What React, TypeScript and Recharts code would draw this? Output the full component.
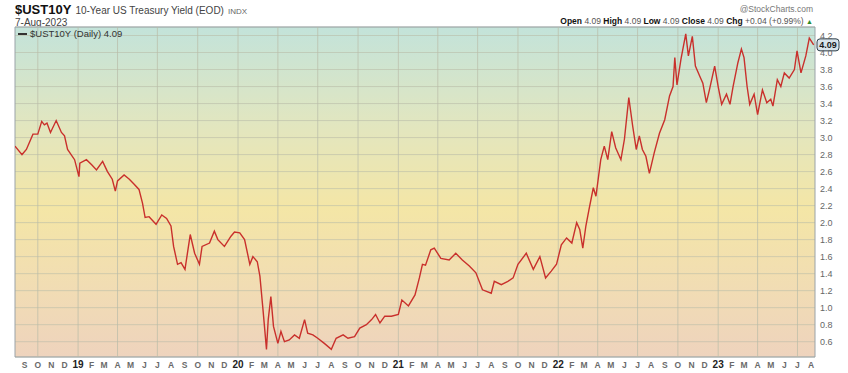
import {
  LineChart,
  Line,
  XAxis,
  YAxis,
  CartesianGrid,
  ReferenceLine,
  ReferenceArea,
} from 'recharts';

const dates = [
  '2018-08-10', '2018-08-26', '2018-09-05', '2018-09-20', '2018-10-01', '2018-10-10', '2018-10-16',
  '2018-10-22', '2018-10-30', '2018-11-12', '2018-11-24', '2018-12-01', '2018-12-08', '2018-12-24',
  '2019-01-03', '2019-01-05', '2019-01-20', '2019-02-01', '2019-02-12', '2019-02-26', '2019-03-09',
  '2019-03-20', '2019-03-27', '2019-04-01', '2019-04-16', '2019-04-28', '2019-05-09', '2019-05-20',
  '2019-05-28', '2019-06-03', '2019-06-12', '2019-06-28', '2019-07-11', '2019-07-22', '2019-08-01',
  '2019-08-07', '2019-08-16', '2019-08-24', '2019-09-02', '2019-09-14', '2019-09-24', '2019-10-05',
  '2019-10-11', '2019-10-28', '2019-11-08', '2019-11-16', '2019-12-01', '2019-12-16', '2019-12-24',
  '2020-01-05', '2020-01-16', '2020-01-28', '2020-02-04', '2020-02-14', '2020-02-20', '2020-02-27',
  '2020-03-06', '2020-03-10', '2020-03-16', '2020-03-22', '2020-04-01', '2020-04-08', '2020-04-16',
  '2020-04-27', '2020-05-09', '2020-05-20', '2020-06-01', '2020-06-08', '2020-06-20', '2020-07-01',
  '2020-07-16', '2020-08-01', '2020-08-12', '2020-08-28', '2020-09-08', '2020-09-23', '2020-10-05',
  '2020-10-20', '2020-11-01', '2020-11-10', '2020-11-20', '2020-12-01', '2020-12-16', '2021-01-01',
  '2021-01-09', '2021-01-24', '2021-02-08', '2021-02-18', '2021-02-25', '2021-03-04', '2021-03-16',
  '2021-03-24', '2021-04-08', '2021-04-27', '2021-05-12', '2021-05-27', '2021-06-12', '2021-06-27',
  '2021-07-12', '2021-08-01', '2021-08-08', '2021-08-24', '2021-09-08', '2021-09-20', '2021-10-01',
  '2021-10-20', '2021-11-05', '2021-11-20', '2021-12-03', '2021-12-16', '2021-12-28', '2022-01-08',
  '2022-01-20', '2022-02-01', '2022-02-12', '2022-02-19', '2022-02-26', '2022-03-05', '2022-03-12',
  '2022-03-22', '2022-03-28', '2022-04-08', '2022-04-16', '2022-04-24', '2022-05-03', '2022-05-12',
  '2022-05-24', '2022-06-01', '2022-06-11', '2022-06-20', '2022-06-28', '2022-07-05', '2022-07-12',
  '2022-07-20', '2022-07-28', '2022-08-08', '2022-08-20', '2022-09-01', '2022-09-12', '2022-09-20',
  '2022-09-24', '2022-09-29', '2022-10-08', '2022-10-19', '2022-10-25', '2022-11-03', '2022-11-10',
  '2022-11-20', '2022-11-27', '2022-12-05', '2022-12-12', '2022-12-24', '2023-01-01', '2023-01-09',
  '2023-01-20', '2023-01-28', '2023-02-04', '2023-02-15', '2023-02-23', '2023-03-01', '2023-03-08',
  '2023-03-14', '2023-03-24', '2023-04-01', '2023-04-12', '2023-04-22', '2023-05-01', '2023-05-06',
  '2023-05-16', '2023-05-24', '2023-06-01', '2023-06-12', '2023-06-24', '2023-06-30', '2023-07-09',
  '2023-07-20', '2023-07-28', '2023-08-07',
];

const yields = [
  2.90, 2.80, 2.86, 3.04, 3.04, 3.19, 3.15,
  3.17, 3.06, 3.20, 3.06, 3.02, 2.86, 2.74,
  2.54, 2.70, 2.74, 2.68, 2.62, 2.72, 2.60,
  2.51, 2.37, 2.49, 2.56, 2.51, 2.45, 2.39,
  2.23, 2.06, 2.07, 1.98, 2.09, 2.05, 1.96,
  1.72, 1.51, 1.53, 1.45, 1.86, 1.64, 1.51,
  1.72, 1.76, 1.90, 1.80, 1.72, 1.84, 1.89,
  1.88, 1.80, 1.51, 1.60, 1.54, 1.37, 0.98,
  0.51, 0.86, 1.13, 0.78, 0.58, 0.72, 0.60,
  0.62, 0.68, 0.64, 0.86, 0.70, 0.68, 0.64,
  0.58, 0.51, 0.64, 0.68, 0.64, 0.66, 0.76,
  0.80, 0.86, 0.92, 0.82, 0.90, 0.90, 0.92,
  1.09, 1.02, 1.15, 1.35, 1.51, 1.50, 1.68,
  1.70, 1.58, 1.56, 1.64, 1.56, 1.49, 1.41,
  1.21, 1.17, 1.31, 1.27, 1.31, 1.35, 1.51,
  1.64, 1.45, 1.60, 1.35, 1.43, 1.51, 1.74,
  1.82, 1.76, 2.00, 1.92, 1.70, 1.96, 2.15,
  2.41, 2.31, 2.74, 2.90, 2.74, 3.07, 2.88,
  2.74, 2.98, 3.47, 3.13, 2.86, 3.02, 2.86,
  2.78, 2.58, 2.82, 3.05, 3.21, 3.49, 3.60,
  3.94, 3.62, 3.92, 4.22, 3.96, 4.19, 3.84,
  3.72, 3.64, 3.41, 3.56, 3.84, 3.60, 3.39,
  3.51, 3.39, 3.60, 3.88, 4.04, 3.94, 3.60,
  3.39, 3.51, 3.27, 3.56, 3.41, 3.45, 3.37,
  3.68, 3.60, 3.76, 3.70, 3.80, 4.02, 3.76,
  3.96, 4.17, 4.09,
];

const yTicks = [0.6, 0.8, 1.0, 1.2, 1.4, 1.6, 1.8, 2.0, 2.2, 2.4, 2.6, 2.8, 3.0, 3.2, 3.4, 3.6, 3.8, 4.0, 4.2];
const monthLetters = ['J', 'F', 'M', 'A', 'M', 'J', 'J', 'A', 'S', 'O', 'N', 'D'];
const lastClose = 4.09;

const toTime = (s: string) => {
  const [y, m, d] = s.split('-').map(Number);
  return Date.UTC(y, m - 1, d);
};

const data = dates.map((d, i) => ({ t: toTime(d), value: yields[i] }));

const xStart = toTime('2018-08-10');
const xEnd = toTime('2023-08-10');

// month starts Sep 2018 .. Aug 2023 for the axis labels
const monthTicks: number[] = [];
for (let y = 2018, m = 8; y < 2023 || (y === 2023 && m <= 7); m++) {
  if (m > 11) { m = 0; y++; }
  monthTicks.push(Date.UTC(y, m, 1));
}
const quarterLines = monthTicks.filter((t) => new Date(t).getUTCMonth() % 3 === 0);

const FONT = '"Liberation Sans", Arial, sans-serif';

const MonthTick = ({ x, y, payload }: any) => {
  const d = new Date(payload.value);
  const m = d.getUTCMonth();
  const isYear = m === 0;
  const label = isYear ? String(d.getUTCFullYear()).slice(2) : monthLetters[m];
  return (
    <text
      x={x}
      y={y + 9}
      textAnchor="middle"
      fontSize={isYear ? 10 : 8.5}
      fontWeight="bold"
      fill={isYear ? '#222' : '#6a6a6a'}
      fontFamily={FONT}
    >
      {label}
    </text>
  );
};

const PriceTick = ({ x, y, payload }: any) => (
  <text x={x + 3} y={y + 3.5} fontSize={9} fill="#666" fontFamily={FONT}>
    {payload.value.toFixed(1)}
  </text>
);

const LastBox = ({ viewBox }: any) => {
  const x = viewBox.x + viewBox.width + 2;
  const y = viewBox.y;
  return (
    <g>
      <rect x={x} y={y - 6} width={22} height={12} rx={3} fill="#d9e4ec" stroke="#2c3e4a" strokeWidth={1} />
      <text x={x + 11} y={y + 3.5} textAnchor="middle" fontSize={9} fontWeight="bold" fill="#1a1a1a" fontFamily={FONT}>
        {lastClose.toFixed(2)}
      </text>
    </g>
  );
};

export default function App() {
  return (
    <div style={{ position: 'absolute', left: 0, top: 0, width: 848, height: 373, background: '#fff', fontFamily: FONT }}>
      <div style={{ position: 'absolute', left: 15, top: 2, whiteSpace: 'nowrap', lineHeight: '14px', height: 14 }}>
        <span style={{ fontSize: 13, fontWeight: 'bold', color: '#111' }}>$UST10Y</span>
        <span style={{ fontSize: 10, color: '#444', marginLeft: 4 }}>10-Year US Treasury Yield (EOD)</span>
        <span style={{ fontSize: 8, color: '#666', marginLeft: 4 }}>INDX</span>
      </div>
      <div style={{ position: 'absolute', left: 15, top: 18, fontSize: 10, lineHeight: '10px', color: '#444' }}>7-Aug-2023</div>
      <div style={{ position: 'absolute', right: 35, top: 4, fontSize: 8.5, lineHeight: '10px', color: '#777' }}>@StockCharts.com</div>
      <div style={{ position: 'absolute', right: 35, top: 16, fontSize: 8.5, lineHeight: '10px', color: '#555', whiteSpace: 'nowrap' }}>
        <b style={{ color: '#111' }}>Open</b> 4.09 <b style={{ color: '#111' }}>High</b> 4.09{' '}
        <b style={{ color: '#111' }}>Low</b> 4.09 <b style={{ color: '#111' }}>Close</b> 4.09{' '}
        <b style={{ color: '#111' }}>Chg</b> +0.04 (+0.99%) <span style={{ color: '#2a8a2a', fontSize: 7 }}>▲</span>
      </div>
      <LineChart width={848} height={373} data={data} margin={{ top: 27, right: 0, bottom: 0, left: 15 }}>
        <defs>
          <linearGradient id="bgGrad" x1="0" y1="0" x2="0" y2="1">
            <stop offset="0%" stopColor="#c3e3da" />
            <stop offset="30%" stopColor="#e2e6bf" />
            <stop offset="55%" stopColor="#f4e6a6" />
            <stop offset="80%" stopColor="#f1dcb4" />
            <stop offset="100%" stopColor="#eed3bd" />
          </linearGradient>
        </defs>
        <CartesianGrid vertical={false} fill="url(#bgGrad)" fillOpacity={1} stroke="#b9bca8" strokeOpacity={0.6} />
        {quarterLines.map((t) => (
          <ReferenceLine key={t} x={t} stroke="#b9bca8" strokeOpacity={0.7} />
        ))}
        <XAxis
          dataKey="t"
          type="number"
          domain={[xStart, xEnd]}
          ticks={monthTicks}
          interval={0}
          tick={<MonthTick />}
          tickLine={false}
          tickSize={0}
          axisLine={false}
          height={16}
          allowDataOverflow
        />
        <YAxis
          orientation="right"
          type="number"
          domain={[0.42, 4.3]}
          ticks={yTicks}
          interval={0}
          tick={<PriceTick />}
          tickLine={false}
          tickSize={0}
          axisLine={false}
          width={33}
          allowDataOverflow
        />
        <ReferenceArea x1={xStart} x2={xEnd} y1={0.42} y2={4.3} fill="none" stroke="#9aa3a8" strokeWidth={1} />
        <Line
          type="linear"
          dataKey="value"
          stroke="#c9302c"
          strokeWidth={1.4}
          dot={false}
          isAnimationActive={false}
        />
        <ReferenceLine y={lastClose} stroke="none" label={<LastBox />} />
      </LineChart>
      <div style={{ position: 'absolute', left: 18, top: 28, fontSize: 9.5, color: '#333', whiteSpace: 'nowrap', display: 'flex', alignItems: 'center' }}>
        <span style={{ display: 'inline-block', width: 9, height: 2, background: '#333', marginRight: 3 }} />
        $UST10Y (Daily) 4.09
      </div>
    </div>
  );
}
